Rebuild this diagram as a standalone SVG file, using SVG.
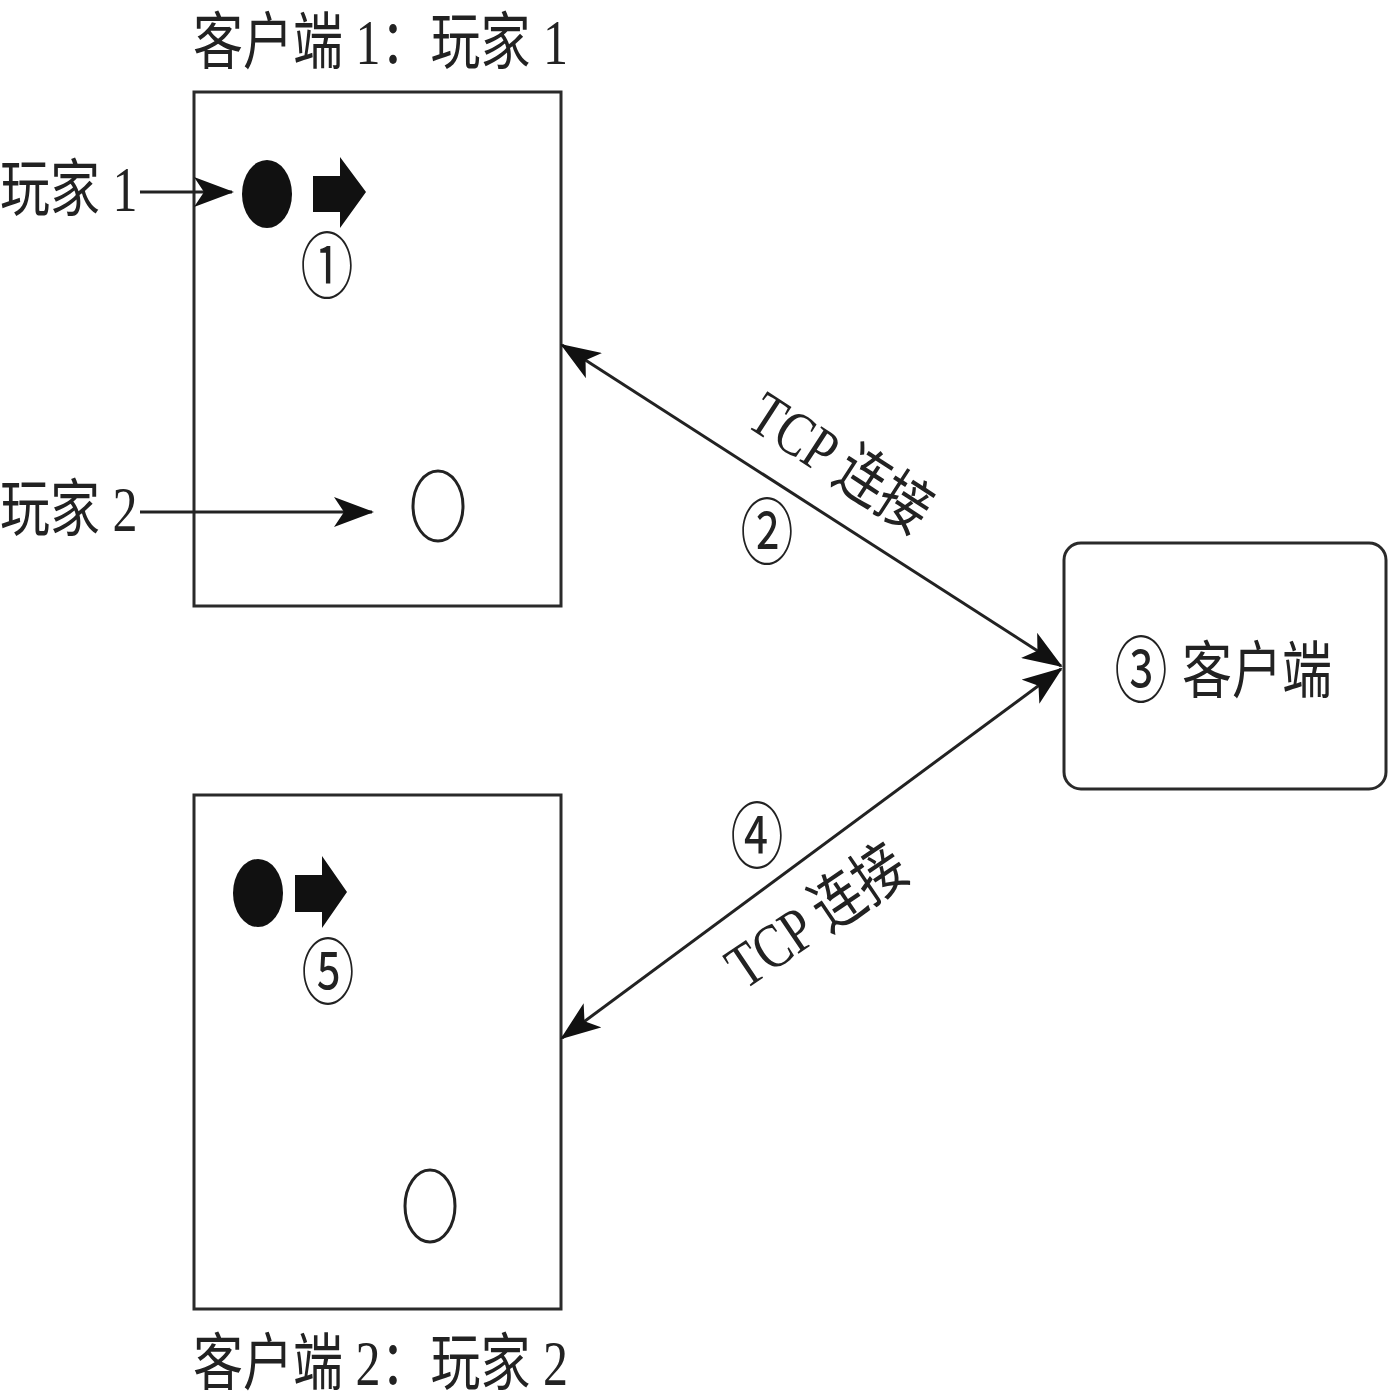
<svg xmlns="http://www.w3.org/2000/svg" width="1389" height="1396" viewBox="0 0 1389 1396">
<defs>
<style>
.t{font-family:"Liberation Serif","Noto Sans CJK SC",serif;font-size:50px;fill:#222}
.c{font-family:"Noto Sans CJK SC","DejaVu Sans",sans-serif;font-size:53px;fill:#222;text-anchor:middle}
.box{fill:#fff;stroke:#2a2a2a;stroke-width:3}
.ln{fill:none;stroke:#222;stroke-width:3}
.blk{fill:#111}
.ring{fill:#fff;stroke:#222;stroke-width:3}
</style>
<marker id="ah" viewBox="0 0 40 30" refX="38" refY="15" markerWidth="40" markerHeight="30" markerUnits="userSpaceOnUse" orient="auto-start-reverse">
<path d="M0,0 L40,15 L0,30 L10,15 z" fill="#111"/>
</marker>
</defs>

<g id="client1">
<rect class="box" x="194" y="92" width="367" height="514"/>
<text class="t" transform="translate(193,64) scale(1,1.25)">客户端 1：玩家 1</text>
<ellipse class="blk" cx="267" cy="194" rx="25" ry="34"/>
<path class="blk" d="M313,176 H340 V157 L366,192 L340,228 V212 H313 z"/>
<text class="c" transform="translate(327,292) scale(1,1.35)">①</text>
<ellipse class="ring" cx="438" cy="506" rx="25" ry="35"/>
</g>

<g id="label-player1">
<text class="t" transform="translate(0,211) scale(1,1.25)">玩家 1</text>
</g>
<g id="label-player2">
<text class="t" transform="translate(0,531) scale(1,1.25)">玩家 2</text>
</g>

<g id="client2">
<rect class="box" x="194" y="795" width="367" height="514"/>
<text class="t" transform="translate(193,1385) scale(1,1.25)">客户端 2：玩家 2</text>
<ellipse class="blk" cx="258" cy="893" rx="25" ry="34"/>
<path class="blk" d="M295,875 H322 V856 L347,892 L322,928 V912 H295 z"/>
<text class="c" transform="translate(328,998) scale(1,1.35)">⑤</text>
<ellipse class="ring" cx="430" cy="1206" rx="25" ry="36"/>
</g>

<g id="server">
<rect class="box" x="1064" y="543" width="322" height="246" rx="17"/>
<text class="c" transform="translate(1141,696) scale(1,1.35)">③</text>
<text class="t" transform="translate(1182,693) scale(1,1.25)">客户端</text>
</g>

<g id="connectors">
<line class="ln" x1="140" y1="192" x2="232" y2="192" marker-end="url(#ah)"/>
<line class="ln" x1="140" y1="512" x2="372" y2="512" marker-end="url(#ah)"/>
<line class="ln" x1="562" y1="345" x2="1061" y2="666" marker-start="url(#ah)" marker-end="url(#ah)"/>
<line class="ln" x1="1061" y1="669" x2="562" y2="1038" marker-start="url(#ah)" marker-end="url(#ah)"/>
<text class="t" text-anchor="middle" transform="translate(829,480) rotate(33) scale(1,1.25)">TCP 连接</text>
<text class="c" transform="translate(767,558) scale(1,1.35)">②</text>
<text class="t" text-anchor="middle" transform="translate(828,934) rotate(-34) scale(1,1.25)">TCP 连接</text>
<text class="c" transform="translate(757,862) scale(1,1.35)">④</text>
</g>
</svg>
